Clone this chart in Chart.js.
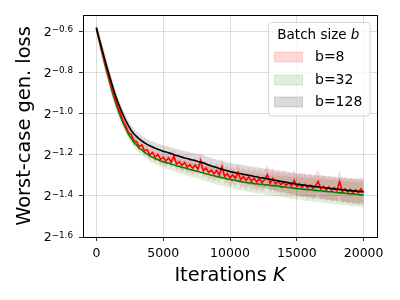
<!DOCTYPE html>
<html>
<head>
<meta charset="utf-8">
<script src="https://cdn.jsdelivr.net/npm/chart.js@4.4.1/dist/chart.umd.min.js"></script>
<style>
  html, body { margin: 0; padding: 0; background: #fff; }
  #wrap { width: 400px; height: 300px; }
</style>
</head>
<body>
<div id="wrap"><canvas id="lossChart" width="400" height="300"></canvas></div>
<script>
// iteration grid (every 200 steps), values are log2 of the loss
const iterations = Array.from({ length: 101 }, (_, i) => i * 200);

const lossB8 = [
  -0.580, -0.636, -0.690, -0.741, -0.792, -0.838, -0.886, -0.926, -0.965, -0.998,
  -1.036, -1.058, -1.091, -1.100, -1.131, -1.136, -1.160, -1.152, -1.180, -1.176,
  -1.199, -1.188, -1.211, -1.198, -1.222, -1.212, -1.230, -1.215, -1.237, -1.205,
  -1.245, -1.234, -1.252, -1.238, -1.260, -1.248, -1.265, -1.250, -1.270, -1.228,
  -1.278, -1.264, -1.285, -1.274, -1.292, -1.276, -1.298, -1.258, -1.305, -1.292,
  -1.311, -1.298, -1.314, -1.285, -1.320, -1.306, -1.324, -1.308, -1.328, -1.314,
  -1.332, -1.316, -1.334, -1.320, -1.296, -1.340, -1.315, -1.342, -1.328, -1.346,
  -1.333, -1.349, -1.336, -1.352, -1.325, -1.355, -1.340, -1.358, -1.344, -1.361,
  -1.347, -1.364, -1.350, -1.330, -1.366, -1.354, -1.370, -1.356, -1.372, -1.360,
  -1.375, -1.330, -1.378, -1.366, -1.381, -1.368, -1.383, -1.371, -1.385, -1.366,
  -1.384
];

const lossB32 = [
  -0.585, -0.640, -0.694, -0.748, -0.800, -0.848, -0.896, -0.939, -0.978, -1.013,
  -1.045, -1.072, -1.099, -1.118, -1.139, -1.152, -1.167, -1.176, -1.188, -1.195,
  -1.206, -1.211, -1.219, -1.223, -1.230, -1.233, -1.238, -1.240, -1.246, -1.248,
  -1.254, -1.256, -1.261, -1.263, -1.268, -1.271, -1.274, -1.278, -1.280, -1.285,
  -1.288, -1.292, -1.294, -1.299, -1.301, -1.306, -1.307, -1.312, -1.313, -1.318,
  -1.319, -1.323, -1.324, -1.328, -1.329, -1.332, -1.333, -1.337, -1.336, -1.340,
  -1.341, -1.343, -1.342, -1.347, -1.346, -1.349, -1.350, -1.352, -1.351, -1.356,
  -1.355, -1.358, -1.359, -1.361, -1.362, -1.365, -1.364, -1.367, -1.368, -1.370,
  -1.369, -1.372, -1.373, -1.375, -1.374, -1.377, -1.378, -1.380, -1.379, -1.382,
  -1.383, -1.385, -1.384, -1.387, -1.388, -1.390, -1.389, -1.392, -1.393, -1.395,
  -1.396
];

const lossB128 = [
  -0.582, -0.633, -0.681, -0.729, -0.776, -0.820, -0.864, -0.905, -0.942, -0.975,
  -1.005, -1.033, -1.058, -1.080, -1.097, -1.110, -1.122, -1.132, -1.141, -1.149,
  -1.156, -1.162, -1.168, -1.173, -1.178, -1.182, -1.186, -1.190, -1.194, -1.199,
  -1.203, -1.207, -1.211, -1.215, -1.218, -1.222, -1.225, -1.228, -1.232, -1.235,
  -1.239, -1.244, -1.249, -1.254, -1.258, -1.262, -1.266, -1.270, -1.274, -1.277,
  -1.281, -1.284, -1.287, -1.290, -1.292, -1.295, -1.297, -1.300, -1.302, -1.305,
  -1.307, -1.310, -1.312, -1.314, -1.317, -1.319, -1.322, -1.324, -1.326, -1.329,
  -1.331, -1.333, -1.336, -1.338, -1.341, -1.343, -1.345, -1.346, -1.348, -1.350,
  -1.351, -1.353, -1.355, -1.356, -1.358, -1.359, -1.361, -1.363, -1.364, -1.366,
  -1.367, -1.368, -1.370, -1.371, -1.373, -1.374, -1.375, -1.377, -1.378, -1.379,
  -1.380
];

// half width of the shaded band around each curve
const bandSpread = [
  0.020, 0.030, 0.034, 0.034, 0.032, 0.030, 0.028, 0.026, 0.025, 0.024,
  0.024, 0.024, 0.024, 0.024, 0.024, 0.024, 0.025, 0.025, 0.026, 0.026,
  0.027, 0.027, 0.028, 0.028, 0.029, 0.029, 0.030, 0.030, 0.031, 0.031,
  0.032, 0.032, 0.033, 0.033, 0.034, 0.034, 0.035, 0.035, 0.036, 0.036,
  0.037, 0.037, 0.038, 0.038, 0.039, 0.039, 0.040, 0.040, 0.041, 0.041,
  0.042, 0.042, 0.043, 0.043, 0.044, 0.044, 0.045, 0.045, 0.046, 0.046,
  0.047, 0.047, 0.048, 0.048, 0.049, 0.049, 0.050, 0.050, 0.051, 0.051,
  0.052, 0.052, 0.053, 0.053, 0.054, 0.054, 0.054, 0.055, 0.055, 0.055,
  0.056, 0.056, 0.056, 0.056, 0.057, 0.057, 0.057, 0.057, 0.058, 0.058,
  0.058, 0.058, 0.059, 0.059, 0.059, 0.059, 0.060, 0.060, 0.060, 0.060,
  0.060
];

const seriesLabels = ['b=8', 'b=32', 'b=128'];
const yTicks = [-1.6, -1.4, -1.2, -1.0, -0.8, -0.6];
const xTicks = [0, 5000, 10000, 15000, 20000];

const FONT = '"DejaVu Sans", sans-serif';
const lineColors = ['#ff0000', '#008000', '#000000'];
const bandColors = ['rgba(255,0,0,0.15)', 'rgba(0,128,0,0.13)', 'rgba(0,0,0,0.14)'];

function points(values, shift) {
    return iterations.map((x, i) => ({ x: x, y: values[i] + shift * bandSpread[i] }));
}

const allSeries = [lossB8, lossB32, lossB128];
const datasets = [];

// lines: first dataset is drawn on top -> black, red, green
[2, 0, 1].forEach(s => {
    datasets.push({
        data: points(allSeries[s], 0),
        borderColor: lineColors[s],
        borderWidth: 1.6,
        pointRadius: 0,
        tension: 0,
        fill: false
    });
});

// bands
[0, 1, 2].forEach(s => {
    const lowIndex = datasets.length;
    datasets.push({
        data: points(allSeries[s], -1),
        borderWidth: 0,
        borderColor: 'transparent',
        pointRadius: 0,
        fill: false
    });
    datasets.push({
        data: points(allSeries[s], 1),
        borderWidth: 0,
        borderColor: 'transparent',
        backgroundColor: bandColors[s],
        pointRadius: 0,
        fill: { target: lowIndex }
    });
});

function drawExpLabel(ctx, right, y, exp) {
    const expText = '\u2212' + Math.abs(exp).toFixed(1);
    ctx.font = '8.8px ' + FONT;
    const ew = ctx.measureText(expText).width;
    ctx.font = '12.5px ' + FONT;
    const bw = ctx.measureText('2').width;
    ctx.textAlign = 'left';
    ctx.textBaseline = 'alphabetic';
    ctx.fillText('2', right - ew - bw, y + 4.2);
    ctx.font = '8.8px ' + FONT;
    ctx.fillText(expText, right - ew, y + 0.6);
}

const textPlugin = {
    id: 'textPlugin',
    afterDraw(chart) {
        const ctx = chart.ctx;
        const a = chart.chartArea;
        const xs = chart.scales.x;
        const ys = chart.scales.y;
        ctx.save();
        ctx.fillStyle = '#000';

        // frame
        ctx.strokeStyle = '#000';
        ctx.lineWidth = 1;
        ctx.strokeRect(Math.round(a.left) + 0.5, Math.round(a.top) + 0.5,
            Math.round(a.right - a.left), Math.round(a.bottom - a.top));

        // tick labels
        yTicks.forEach(v => drawExpLabel(ctx, 73, ys.getPixelForValue(v), v));
        ctx.font = '12.5px ' + FONT;
        ctx.textAlign = 'center';
        ctx.textBaseline = 'alphabetic';
        xTicks.forEach(v => ctx.fillText(String(v), xs.getPixelForValue(v), 257.3));

        // x axis title
        ctx.font = '19.4px ' + FONT;
        const w1 = ctx.measureText('Iterations ').width;
        ctx.font = 'italic 19.4px ' + FONT;
        const w2 = ctx.measureText('K').width;
        const x0 = (a.left + a.right) / 2 - (w1 + w2) / 2;
        ctx.textAlign = 'left';
        ctx.font = '19.4px ' + FONT;
        ctx.fillText('Iterations ', x0, 281);
        ctx.font = 'italic 19.4px ' + FONT;
        ctx.fillText('K', x0 + w1, 281);

        // y axis title
        ctx.save();
        ctx.translate(29.7, (a.top + a.bottom) / 2);
        ctx.rotate(-Math.PI / 2);
        ctx.font = '19.4px ' + FONT;
        ctx.textAlign = 'center';
        ctx.fillText('Worst-case gen. loss', 0, 0);
        ctx.restore();

        // legend
        const lx = 268.5, ly = 22.5, lw = 101.5, lh = 93.5;
        ctx.beginPath();
        ctx.roundRect(lx, ly, lw, lh, 3);
        ctx.fillStyle = 'rgba(255,255,255,0.8)';
        ctx.fill();
        ctx.strokeStyle = 'rgba(204,204,204,0.8)';
        ctx.stroke();

        ctx.fillStyle = '#000';
        ctx.textBaseline = 'middle';
        ctx.font = '13.5px ' + FONT;
        const tw = ctx.measureText('Batch size ').width;
        ctx.fillText('Batch size ', 277.3, 35);
        ctx.font = 'italic 13.5px ' + FONT;
        ctx.fillText('b', 277.3 + tw, 35);

        const rows = [57, 80, 102];
        seriesLabels.forEach((label, i) => {
            ctx.fillStyle = bandColors[i];
            ctx.strokeStyle = bandColors[i];
            ctx.fillRect(274.5, rows[i] - 5, 28, 10);
            ctx.strokeRect(274.5, rows[i] - 5, 28, 10);
            ctx.fillStyle = '#000';
            ctx.font = '14px ' + FONT;
            ctx.fillText(label, 315, rows[i] + 0.5);
        });
        ctx.restore();
    }
};

const gridOpts = {
    color: 'rgba(176,176,176,0.55)',
    lineWidth: 0.8,
    drawTicks: true,
    tickLength: 4,
    tickColor: '#000',
    tickWidth: 0.8
};

new Chart(document.getElementById('lossChart'), {
    type: 'line',
    data: { datasets: datasets },
    options: {
        responsive: false,
        animation: false,
        devicePixelRatio: 1,
        layout: { padding: { top: 15, right: 23, left: 0, bottom: 0 } },
        plugins: {
            legend: { display: false },
            tooltip: { enabled: false },
            filler: { drawTime: 'beforeDatasetsDraw' }
        },
        scales: {
            x: {
                type: 'linear',
                min: -1000,
                max: 21000,
                afterBuildTicks: s => { s.ticks = xTicks.map(v => ({ value: v })); },
                afterFit: s => { s.height = 63; },
                ticks: { callback: () => '' },
                grid: gridOpts,
                border: { display: false }
            },
            y: {
                type: 'linear',
                min: -1.6,
                max: -0.519,
                afterBuildTicks: s => { s.ticks = yTicks.map(v => ({ value: v })); },
                afterFit: s => { s.width = 83; },
                ticks: { callback: () => '' },
                grid: gridOpts,
                border: { display: false }
            }
        }
    },
    plugins: [textPlugin]
});
</script>
</body>
</html>
